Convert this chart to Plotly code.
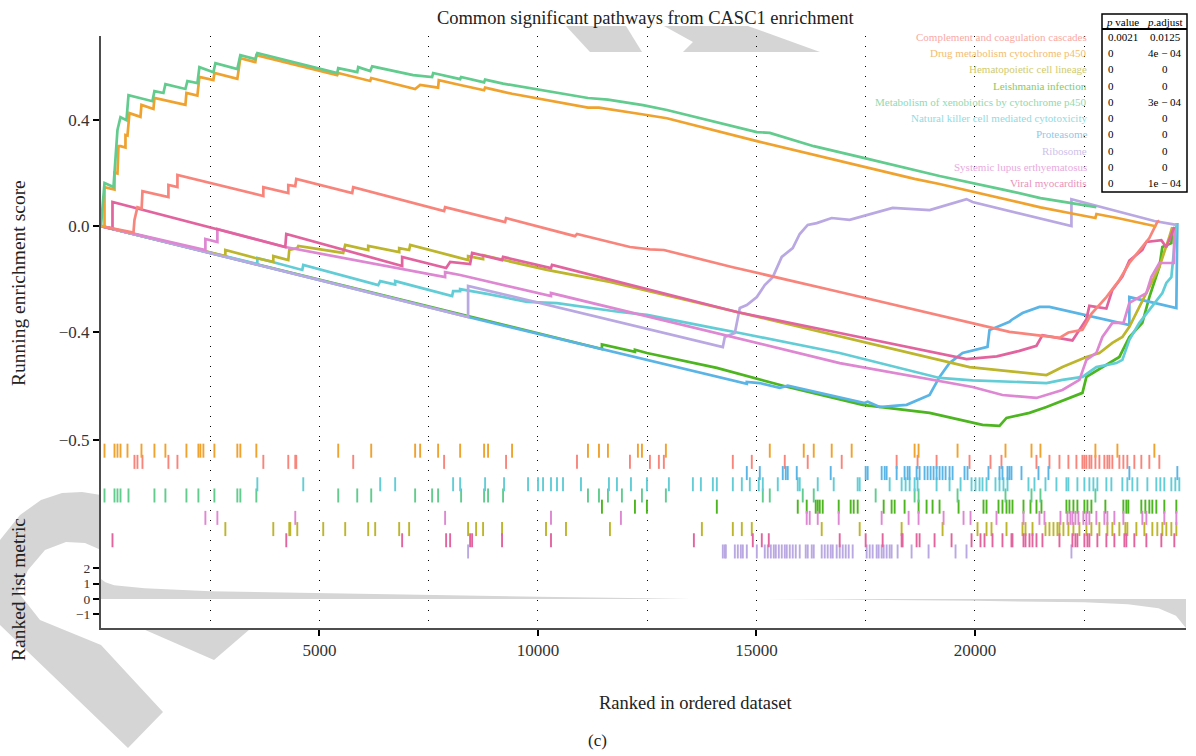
import plotly.graph_objects as go

# ---------------- data ----------------
set_names = [
    "Complement and coagulation cascades",
    "Drug metabolism cytochrome p450",
    "Hematopoietic cell lineage",
    "Leishmania infection",
    "Metabolism of xenobiotics by cytochrome p450",
    "Natural killer cell mediated cytotoxicity",
    "Proteasome",
    "Ribosome",
    "Systemic lupus erthyematosus",
    "Viral myocarditis",
]
p_value = ["0.0021", "0", "0", "0", "0", "0", "0", "0", "0", "0"]
p_adjust = ["0.0125", "4e − 04", "0", "0", "3e − 04", "0", "0", "0", "0", "1e − 04"]

line_colors = ["#F8857C", "#F0A22E", "#BDB52C", "#4DB51F", "#62CB8E",
               "#62CDD6", "#5AB4E5", "#B9A8E2", "#DE87D2", "#E2649F"]

# running enrichment score curves (rank, score)
es_x_complement = [0, 743, 766, 834, 930, 949, 1543, 1543, 1749, 1749, 3715, 3715, 4286, 4286, 4446, 4469, 5749, 5772,
                   7852, 7875, 9247, 9270, 10847, 10893, 12105, 12562, 12881, 14436, 16905, 19945, 20790, 21408, 21934,
                   22139, 22460, 22551, 22665, 23008, 23305, 23534, 23763, 23991, 24174, 24220]
es_y_complement = [0, -0.025, 0.023, 0.071, 0.066, 0.131, 0.109, 0.154, 0.146, 0.192, 0.113, 0.146, 0.124, 0.154, 0.150,
                   0.177, 0.124, 0.146, 0.056, 0.071, 0.015, 0.030, -0.038, -0.030, -0.079, -0.088, -0.090, -0.154,
                   -0.248, -0.364, -0.398, -0.410, -0.420, -0.400, -0.390, -0.364, -0.330, -0.267, -0.203, -0.139,
                   -0.090, -0.045, 0.015, 0.020]

es_x_drug = [0, 80, 80, 309, 309, 377, 400, 446, 560, 560, 606, 651, 903, 926, 1200, 1223, 1932, 1955, 2206, 2252,
             2572, 2595, 3120, 3189, 3532, 3555, 5406, 5429, 6161, 6184, 7189, 7304, 7715, 7730, 8219, 8767, 8790,
             9407, 11144, 11396, 12379, 12950, 15008, 17476, 18619, 19190, 21499, 22162, 22757, 22780, 23260, 24106,
             24150]
es_y_drug = [0, 0, 0.146, 0.137, 0.200, 0.197, 0.300, 0.300, 0.295, 0.342, 0.340, 0.424, 0.410, 0.455, 0.440, 0.481,
             0.455, 0.500, 0.490, 0.560, 0.548, 0.575, 0.553, 0.631, 0.616, 0.642, 0.567, 0.575, 0.545, 0.556, 0.515,
             0.530, 0.520, 0.548, 0.530, 0.510, 0.520, 0.497, 0.445, 0.445, 0.420, 0.405, 0.319, 0.222, 0.177, 0.158,
             0.070, 0.049, 0.030, 0.045, 0.030, 0.000, 0.000]

es_x_hematopoietic = [0, 2846, 2846, 3532, 3943, 3943, 4286, 4309, 4492, 4515, 5543, 5589, 6115, 6115, 6824, 6824,
                      7052, 7075, 8036, 8401, 8401, 8744, 8744, 9201, 10207, 11647, 14551, 16905, 19876, 21637, 22002,
                      22551, 22848, 23145, 23374, 23534, 23923, 24220, 24449, 24517]
es_y_hematopoietic = [0, -0.113, -0.090, -0.120, -0.135, -0.113, -0.128, -0.090, -0.083, -0.075, -0.101, -0.071,
                      -0.090, -0.075, -0.098, -0.083, -0.090, -0.071, -0.112, -0.128, -0.113, -0.124, -0.110, -0.128,
                      -0.165, -0.210, -0.323, -0.417, -0.530, -0.560, -0.530, -0.492, -0.477, -0.439, -0.417, -0.379,
                      -0.252, -0.154, -0.041, -0.004]

es_x_leishmania = [0, 11464, 11464, 12219, 12219, 12493, 14093, 14848, 15716, 17431, 18962, 20173, 20562, 20722, 21248,
                   21637, 22460, 22551, 23305, 23534, 23831, 23991, 24220, 24289, 24495, 24517]
es_y_leishmania = [0, -0.462, -0.445, -0.473, -0.465, -0.477, -0.533, -0.567, -0.605, -0.672, -0.702, -0.747, -0.751,
                   -0.721, -0.702, -0.680, -0.627, -0.567, -0.492, -0.417, -0.364, -0.267, -0.154, -0.079, -0.064,
                   -0.004]

es_x_xenobiotics = [0, 40, 80, 286, 309, 331, 377, 446, 583, 629, 1177, 1223, 1429, 1474, 1932, 1977, 2206, 2252, 2572,
                    2618, 3120, 3189, 3532, 3578, 5406, 5429, 5864, 5886, 6161, 6207, 7144, 7578, 7601, 8219, 8241,
                    8767, 8790, 9201, 11144, 11601, 12402, 12950, 15008, 15305, 16311, 17476, 18619, 19190, 20699,
                    21499, 22779]
es_y_xenobiotics = [0, 0.086, 0.162, 0.147, 0.200, 0.259, 0.361, 0.409, 0.398, 0.492, 0.469, 0.507, 0.500, 0.533,
                    0.515, 0.545, 0.537, 0.597, 0.578, 0.612, 0.590, 0.642, 0.627, 0.650, 0.575, 0.593, 0.578, 0.597,
                    0.582, 0.600, 0.567, 0.560, 0.575, 0.552, 0.560, 0.540, 0.550, 0.535, 0.481, 0.475, 0.454, 0.436,
                    0.353, 0.350, 0.300, 0.255, 0.210, 0.188, 0.135, 0.105, 0.071]

es_x_nk = [0, 3578, 3578, 4606, 4629, 6344, 6390, 6732, 6732, 8036, 8058, 8219, 8219, 8835, 9750, 10435, 11876, 12493,
           14002, 14619, 16905, 19190, 19945, 21637, 22002, 22460, 22779, 23237, 23374, 23534, 23763, 23991, 24289,
           24380, 24495, 24563, 24609]
es_y_nk = [0, -0.143, -0.120, -0.165, -0.146, -0.222, -0.207, -0.220, -0.207, -0.263, -0.245, -0.245, -0.237, -0.255,
           -0.285, -0.290, -0.323, -0.334, -0.383, -0.402, -0.477, -0.571, -0.580, -0.590, -0.578, -0.567, -0.530,
           -0.515, -0.503, -0.428, -0.364, -0.316, -0.252, -0.214, -0.192, -0.079, 0.011]

es_x_proteasome = [0, 8401, 14779, 14779, 15076, 15533, 15716, 16676, 17476, 17545, 17819, 18208, 18436, 18962, 19190,
                   19419, 19716, 20288, 20333, 20790, 20836, 21088, 21476, 21705, 23534, 23534, 24609, 24632]
es_y_proteasome = [0, -0.342, -0.593, -0.586, -0.590, -0.608, -0.600, -0.635, -0.665, -0.660, -0.680, -0.675, -0.672,
                   -0.635, -0.567, -0.515, -0.477, -0.454, -0.391, -0.360, -0.353, -0.327, -0.304, -0.304, -0.372,
                   -0.267, -0.308, 0.011]

es_x_ribosome = [0, 8401, 8401, 14230, 14276, 14505, 14619, 14779, 15008, 15190, 15373, 15579, 15830, 15990, 16173,
                 16379, 16722, 16905, 17133, 18116, 18962, 19807, 19945, 22208, 22208, 24106, 24609]
es_y_ribosome = [0, -0.342, -0.225, -0.455, -0.417, -0.402, -0.308, -0.297, -0.267, -0.222, -0.192, -0.116, -0.083,
                 -0.030, 0.004, 0.011, 0.030, 0.026, 0.023, 0.068, 0.060, 0.101, 0.090, 0.000, 0.101, 0.019, 0.004]

es_x_lupus = [0, 2389, 2389, 2663, 2663, 4217, 7875, 7875, 8219, 10298, 10298, 16905, 19945, 20630, 21408, 22002,
              22391, 22551, 22779, 22917, 23145, 23400, 23534, 23923, 24037, 24220, 24550, 24563]
es_y_lupus = [0, -0.090, -0.049, -0.060, -0.011, -0.079, -0.192, -0.173, -0.184, -0.263, -0.252, -0.515, -0.605,
              -0.635, -0.646, -0.616, -0.578, -0.503, -0.477, -0.417, -0.364, -0.364, -0.289, -0.252, -0.192, -0.139,
              -0.139, -0.004]

es_x_viral = [0, 263, 263, 4217, 4240, 6892, 6892, 7898, 7990, 8447, 8493, 9178, 9201, 10298, 10321, 14551, 16905,
              19807, 20500, 21000, 21408, 21545, 22231, 22551, 22619, 23008, 23145, 23374, 23534, 23831, 23923, 24266,
              24380, 24563]
es_y_viral = [0, -0.010, 0.090, -0.079, -0.030, -0.150, -0.116, -0.158, -0.135, -0.143, -0.101, -0.128, -0.116, -0.158,
              -0.146, -0.323, -0.402, -0.500, -0.490, -0.470, -0.450, -0.410, -0.430, -0.350, -0.300, -0.310, -0.240,
              -0.190, -0.130, -0.090, -0.060, -0.053, -0.080, -0.004]

# gene-set member positions in the ranked list (rug)
hits_complement = [766, 834, 949, 1543, 1749, 3715, 4286, 4446, 4469, 5772, 7852, 9270, 10893, 12105, 12562, 12767,
                   12881, 14459, 14893, 15648, 16173, 16951, 18208, 18687, 19122, 19876, 20356, 20607, 21408, 21705,
                   21934, 22139, 22322, 22460, 22505, 22551, 22619, 22665, 22757, 22848, 22962, 23031, 23077, 23145,
                   23305, 23397, 23488, 23648, 23808, 23991, 24220]
hits_drug = [80, 309, 377, 446, 606, 926, 1223, 1474, 1955, 2229, 2275, 2343, 2595, 3120, 3189, 3555, 5429, 6184,
             7189, 7304, 7715, 8219, 8767, 8858, 9407, 11144, 11396, 11601, 12287, 12379, 12927, 15305, 16082, 16311,
             16722, 17179, 18619, 18710, 19602, 20699, 21294, 21499, 22757, 23260, 24106]
hits_hematopoietic = [2846, 3943, 4309, 4332, 4492, 5086, 5589, 6115, 6275, 6824, 7052, 8401, 8584, 8744, 9178, 10184,
                      10641, 11647, 13751, 14459, 14665, 14893, 16493, 17362, 18322, 19259, 20059, 20265, 20379,
                      20722, 21088, 21157, 21317, 21614, 21705, 21797, 21888, 21934, 22025, 22139, 22254, 22391,
                      22551, 22665, 22848, 23031, 23145, 23305, 23442, 23488, 23694, 23877, 24060, 24174, 24289,
                      24380, 24495, 24609]
hits_leishmania = [11464, 12219, 12493, 14093, 15945, 16150, 16356, 16402, 16448, 16516, 16882, 17156, 17225, 17316,
                   17911, 18093, 18162, 18390, 18710, 18893, 19030, 19190, 19625, 20196, 20265, 20539, 20630, 20722,
                   20790, 20859, 21111, 21271, 21408, 21522, 22094, 22162, 22254, 22345, 22505, 22574, 22665, 22985,
                   23397, 23465, 23511, 23808, 23900, 23991, 24060, 24151, 24334, 24609]
hits_xenobiotics = [80, 309, 377, 446, 629, 1223, 1474, 1955, 2229, 2595, 3120, 3189, 3555, 5429, 5864, 6184, 7189,
                    7578, 7715, 8241, 8767, 8858, 9201, 11144, 11396, 11601, 11921, 12379, 12927, 15145, 15305,
                    16059, 16311, 17728, 18619, 18710, 19602, 20699, 21294, 21499, 22757]
hits_nk = [3578, 4629, 6390, 6732, 8058, 8219, 8790, 9224, 9773, 10001, 10116, 10298, 10435, 10573, 10984, 11624,
           11807, 12128, 12493, 12996, 13545, 13728, 14002, 14093, 14459, 14665, 14848, 15053, 15145, 15488, 15945,
           15990, 16402, 16768, 17316, 17362, 18048, 18322, 18413, 18505, 18619, 18687, 19122, 19419, 19671, 19922,
           20013, 20105, 20173, 20265, 20470, 20562, 20653, 20745, 21225, 21362, 21614, 21865, 22094, 22139, 22345,
           22505, 22619, 22711, 22802, 23008, 23122, 23374, 23488, 23603, 23717, 23946, 24151, 24243, 24334, 24495,
           24586, 24677]
hits_proteasome = [14779, 15076, 15602, 15670, 15716, 15922, 16699, 17499, 17545, 17865, 17934, 17979, 18208, 18390,
                   18459, 18505, 18665, 18733, 18847, 18916, 18985, 19053, 19122, 19190, 19259, 19328, 19419, 19488,
                   19762, 19830, 20310, 20562, 20630, 20745, 20790, 20836, 21065, 21454, 21682, 23534, 24632]
hits_ribosome = [8401, 14230, 14276, 14299, 14505, 14573, 14642, 14688, 14779, 15008, 15190, 15259, 15328, 15396,
                 15442, 15511, 15579, 15648, 15693, 15762, 15830, 15899, 15990, 16127, 16173, 16265, 16311, 16493,
                 16562, 16630, 16699, 16745, 16836, 16905, 16974, 17042, 17111, 17202, 17522, 17591, 17659, 17751,
                 17796, 17865, 17911, 17979, 18048, 18093, 18230, 18550, 18939, 19556, 19807, 22208]
hits_lupus = [2389, 2663, 4446, 7875, 10298, 11898, 16150, 16219, 16402, 16882, 17865, 18482, 18710, 19282, 19739,
              19899, 20493, 21111, 21476, 21591, 21957, 22117, 22185, 22231, 22299, 22368, 22482, 22551, 22619, 22779,
              22962, 23031, 23191, 23397, 23831, 23923, 24334, 24609]
hits_viral = [263, 4240, 6892, 7898, 7990, 8447, 8493, 9178, 10298, 13568, 14916, 15122, 15282, 16905, 17499, 17888,
              18322, 18345, 18665, 18733, 19076, 19465, 19922, 20127, 20219, 20402, 20630, 20836, 20859, 21111, 21157,
              21248, 21317, 21408, 21545, 21934, 22231, 22299, 22345, 22505, 22574, 22619, 22802, 23008, 23191, 23420,
              23465, 23648, 23923, 24266, 24563]

# rug row (1 = top) for each gene set
rug_row = [2, 1, 8, 6, 5, 4, 3, 10, 7, 9]

# ranked list metric
metric_rank = [0, 100, 300, 1000, 2500, 5000, 7500, 10000, 12500, 13500, 16000, 18000, 20000, 22500, 23500, 24200,
               24600, 24830]
metric_value = [1.3, 1.1, 0.9, 0.7, 0.5, 0.37, 0.25, 0.15, 0.05, 0.0, -0.01, -0.05, -0.12, -0.22, -0.35, -0.6, -1.1,
                -1.9]

x_tick_values = [5000, 10000, 15000, 20000]

es_x = [es_x_complement, es_x_drug, es_x_hematopoietic, es_x_leishmania, es_x_xenobiotics, es_x_nk,
        es_x_proteasome, es_x_ribosome, es_x_lupus, es_x_viral]
es_y = [es_y_complement, es_y_drug, es_y_hematopoietic, es_y_leishmania, es_y_xenobiotics, es_y_nk,
        es_y_proteasome, es_y_ribosome, es_y_lupus, es_y_viral]
hits = [hits_complement, hits_drug, hits_hematopoietic, hits_leishmania, hits_xenobiotics, hits_nk,
        hits_proteasome, hits_ribosome, hits_lupus, hits_viral]

X_MAX = 24830
SERIF = "Liberation Serif"

# ---------------- figure ----------------
fig = go.Figure()

# draw order: green, blue, cyan, olive, lavender, lupus, viral, salmon, orange, mint
draw_order = [3, 6, 5, 2, 7, 8, 9, 0, 1, 4]
for i in draw_order:
    fig.add_trace(go.Scatter(x=es_x[i], y=es_y[i], mode="lines", xaxis="x", yaxis="y",
                             line=dict(color=line_colors[i], width=2.7), showlegend=False,
                             name=set_names[i]))

for i in range(10):
    fig.add_trace(go.Scatter(x=hits[i], y=[rug_row[i]] * len(hits[i]), mode="markers",
                             xaxis="x2", yaxis="y2", showlegend=False,
                             marker=dict(symbol="line-ns", size=10,
                                         line=dict(width=1.9, color=line_colors[i]))))

fig.add_trace(go.Scatter(x=metric_rank, y=metric_value, mode="lines", fill="tozeroy",
                         fillcolor="#D6D6D6", line=dict(width=0, color="#D6D6D6"),
                         xaxis="x3", yaxis="y3", showlegend=False))

AX_LINE = "#4D4D4D"
DOTS = "1px,9px"
grid = dict(showgrid=True, gridcolor="black", gridwidth=1, griddash=DOTS,
            range=[0, X_MAX], automargin=False, zeroline=False,
            minor=dict(dtick=2500, tick0=0, showgrid=True, gridcolor="black", gridwidth=1,
                       griddash=DOTS, ticks=""))

d_es = [0.3176, 1.0]
d_rug = [0.1149, 0.3176]
d_met = [0.0, 0.1149]

tickfont = dict(family=SERIF, size=17, color="#333333")
tickfont_small = dict(family=SERIF, size=13.5, color="#333333")
yax_common = dict(ticks="outside", ticklen=6, tickwidth=2, tickcolor="black", showline=True,
                  linecolor=AX_LINE, linewidth=2, showgrid=False, zeroline=False, automargin=False)

fig.update_layout(
    template="none",
    width=1196, height=756,
    margin=dict(l=101, r=10, t=36, b=128, autoexpand=False),
    paper_bgcolor="white", plot_bgcolor="rgba(0,0,0,0)",
    title=dict(text="Common significant pathways from CASC1 enrichment", x=0.5395, xanchor="center",
               y=0.977, yanchor="middle", font=dict(family=SERIF, size=18.5, color="#222222")),
    xaxis=dict(anchor="y", showticklabels=False, ticks="", showline=False, tickvals=x_tick_values, **grid),
    xaxis2=dict(anchor="y2", matches="x", showticklabels=False, ticks="", showline=False,
                tickvals=x_tick_values, **grid),
    xaxis3=dict(anchor="y3", matches="x", showticklabels=True, ticks="outside", ticklen=6, tickwidth=2,
                tickcolor="black", showline=True, linecolor=AX_LINE, linewidth=2, tickformat="d",
                tickvals=x_tick_values, tickfont=tickfont, **grid),
    yaxis=dict(domain=d_es, range=[-0.804, 0.714], tickvals=[-0.4, 0.0, 0.4], tickformat=".1f",
               tickfont=tickfont, **yax_common),
    yaxis2=dict(domain=d_rug, range=[10.76, 0.045], tickvals=[0.045], ticktext=["−0.5"],
                tickfont=tickfont, **yax_common),
    yaxis3=dict(domain=d_met, range=[-1.895, 2.55], tickvals=[-1, 0, 1, 2],
                tickfont=tickfont_small, **yax_common),
)

PLOT_L, PLOT_W, PLOT_B, PLOT_H = 101, 1085, 628, 592
def px_x(px):
    return (px - PLOT_L) / PLOT_W
def px_y(py):
    return (PLOT_B - py) / PLOT_H

TXT = "#222222"
ann = []
def add_text(text, x, y, size, color=TXT, xanchor="center", angle=0, opacity=1.0):
    ann.append(dict(text=text, x=px_x(x), y=px_y(y), xref="paper", yref="paper", xanchor=xanchor,
                    yanchor="middle", textangle=angle, showarrow=False, opacity=opacity,
                    font=dict(family=SERIF, size=size, color=color)))

add_text("Running enrichment score", 18, 283, 19.5, angle=-90)
add_text("Ranked list metric", 18, 590, 19.5, angle=-90)
add_text("Ranked in ordered dataset", 695, 703, 18.5)
add_text("(c)", 597, 740, 17)

row_y = [36.7 + 16.3 * k for k in range(10)]
for k in range(10):
    add_text(set_names[k], 1089, row_y[k], 11, color=line_colors[k], xanchor="right", opacity=0.7)
    add_text(p_value[k], 1106, row_y[k], 11, color="black", xanchor="left")
    add_text(p_adjust[k], 1165, row_y[k], 11, color="black")
add_text("<i>p</i> value", 1122, 21.5, 11, color="black")
add_text("<i>p</i>.adjust", 1165, 21.5, 11, color="black")
fig.update_layout(annotations=ann)

# page watermark (decorative, light grey) drawn behind the chart
watermark_polys = [
    [(0, 540), (20, 515), (41, 500), (62, 493), (82, 492), (101, 495), (101, 550), (85, 543), (66, 542),
     (45, 550), (28, 570), (18, 592), (40, 620), (101, 645), (163, 712), (128, 748), (0, 625)],
    [(143, 629), (250, 629), (214, 660)],
    [(566, 26), (626, 26), (642, 52), (590, 52)],
    [(664, 26), (693, 42), (683, 52), (820, 52), (748, 26)],
]
shapes = []
for poly in watermark_polys:
    path = "M " + " L ".join(f"{px_x(a):.5f},{px_y(b):.5f}" for a, b in poly) + " Z"
    shapes.append(dict(type="path", xref="paper", yref="paper", path=path, fillcolor="#D5D5D5",
                       line=dict(width=0), layer="below"))

shapes.append(dict(type="rect", xref="paper", yref="paper", x0=px_x(1102), x1=px_x(1187), y0=px_y(192),
                   y1=px_y(14), line=dict(color="black", width=1.5), fillcolor="white", layer="above"))
shapes.append(dict(type="line", xref="paper", yref="paper", x0=px_x(1102), x1=px_x(1187), y0=px_y(29),
                   y1=px_y(29), line=dict(color="black", width=2), layer="above"))
fig.update_layout(shapes=shapes)

fig.write_html("out.html", config={"displayModeBar": False},
               post_script="document.body.style.margin='0';document.body.style.overflow='hidden';")
